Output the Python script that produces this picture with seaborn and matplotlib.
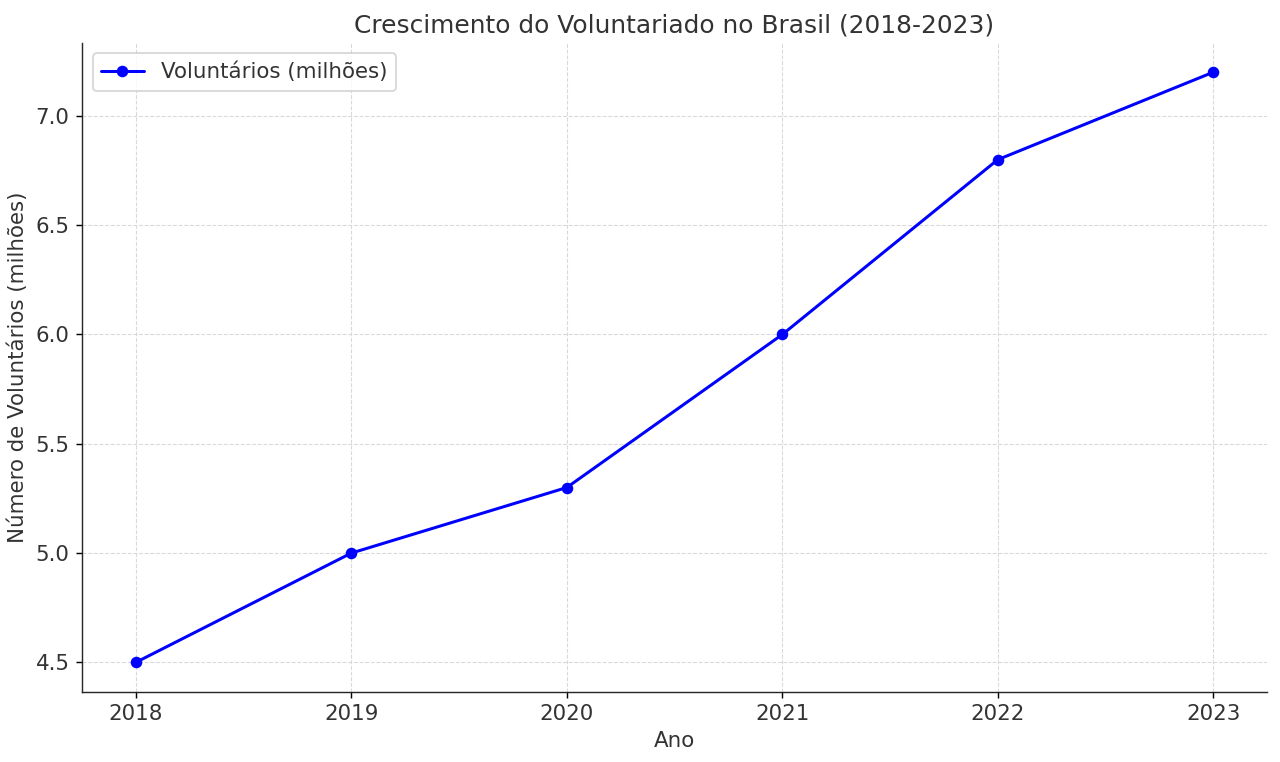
import matplotlib
matplotlib.use("Agg")
import matplotlib.pyplot as plt
import seaborn as sns
import pandas as pd

anos = [2018, 2019, 2020, 2021, 2022, 2023]
voluntarios = [4.5, 5.0, 5.3, 6.0, 6.8, 7.2]

sns.set_style("ticks")
plt.rcParams["font.family"] = ["DejaVu Sans"]
plt.rcParams["text.color"] = "#333333"
plt.rcParams["axes.labelcolor"] = "#333333"

df = pd.DataFrame({"Ano": anos, "Voluntários": voluntarios})

fig = plt.figure(figsize=(10, 762 / 128), dpi=128)
ax = fig.add_axes([0.064, 0.092, 0.926, 0.852])

sns.lineplot(data=df, x="Ano", y="Voluntários", marker="o", color="blue",
             linewidth=1.7, markersize=6.5, markeredgewidth=0,
             label="Voluntários (milhões)", ax=ax)

ax.set_title("Crescimento do Voluntariado no Brasil (2018-2023)", fontsize=14)
ax.set_xlabel("Ano", fontsize=12)
ax.set_ylabel("Número de Voluntários (milhões)", fontsize=12)
ax.tick_params(labelsize=12, labelcolor="#333333", color="black")
ax.grid(True, linestyle="--", color="#d9d9d9", linewidth=0.6)
ax.set_xticks(anos)
ax.set_yticks([4.5, 5.0, 5.5, 6.0, 6.5, 7.0])
ax.set_yticklabels(["4.5", "5.0", "5.5", "6.0", "6.5", "7.0"])
ax.set_xlim(2017.75, 2023.25)
ax.set_ylim(4.365, 7.335)
sns.despine(ax=ax)
ax.legend(loc="upper left", fontsize=12, frameon=True)

fig.savefig("out.png", dpi=128)
